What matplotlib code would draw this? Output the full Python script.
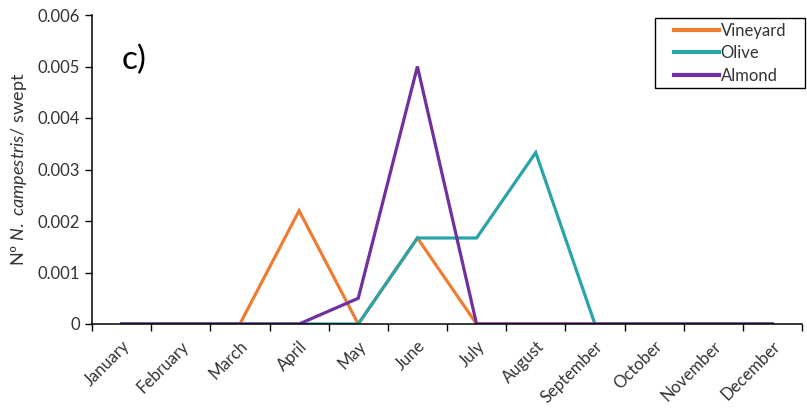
import matplotlib
matplotlib.use("Agg")
import matplotlib.pyplot as plt
from matplotlib.patches import Rectangle
from matplotlib.ticker import FixedLocator, FuncFormatter
import numpy as np

plt.rcParams['font.family'] = ['Lato', 'DejaVu Sans']
plt.rcParams['mathtext.fontset'] = 'custom'
plt.rcParams['mathtext.rm'] = 'Lato'
plt.rcParams['mathtext.it'] = 'Lato:italic'

months = ["January", "February", "March", "April", "May", "June", "July",
          "August", "September", "October", "November", "December"]
vineyard = [0, 0, 0, 0.0022, 0, 0.00167, 0, 0, 0, 0, 0, 0]
olive = [0, 0, 0, 0, 0, 0.00167, 0.00167, 0.00333, 0, 0, 0, 0]
almond = [0, 0, 0, 0, 0.0005, 0.005, 0, 0, 0, 0, 0, 0]

series = [("Vineyard", vineyard, "#ED7D31"),
          ("Olive", olive, "#2AA4A8"),
          ("Almond", almond, "#7030A0")]

text_color = '#333333'
W, H = 807, 412

fig = plt.figure(figsize=(W / 100, H / 100), dpi=100)
ax = fig.add_axes([92 / W, 88 / H, 710 / W, 309 / H])

x = np.arange(len(months))
for name, vals, color in series:
    ax.plot(x, vals, color=color, lw=2.3, label=name, solid_joinstyle='miter')

ax.set_xlim(-0.5, len(months) - 0.5)
ax.set_ylim(0, 0.006)
ax.set_yticks(np.arange(0, 0.0061, 0.001))
ax.yaxis.set_major_formatter(FuncFormatter(lambda v, p: "0" if v == 0 else f"{v:.3f}"))

ax.set_xticks(x)
ax.set_xticklabels(months, rotation=45, ha='right', rotation_mode='anchor')
ax.xaxis.set_minor_locator(FixedLocator(np.arange(-0.5, len(months), 1.0)))
ax.tick_params(axis='x', which='major', length=0, pad=10, labelsize=12, colors=text_color)
ax.tick_params(axis='x', which='minor', length=5, width=1, direction='out', color='black')
ax.tick_params(axis='y', length=5, width=1, direction='out', labelsize=12, labelcolor=text_color)

for s in ['top', 'right']:
    ax.spines[s].set_visible(False)
for s in ['left', 'bottom']:
    ax.spines[s].set_linewidth(1.1)

ax.set_ylabel(r"Nº $\it{N.\ campestris}$/ swept", fontsize=13, color=text_color, labelpad=6)

ax.text(0.042, 0.905, "c)", transform=ax.transAxes, fontsize=24, va='top', ha='left')

# Legend box with wide side margins, legend entries placed inside it
fig.add_artist(Rectangle((655 / W, 1 - 88 / H), 150 / W, 70 / H,
                         transform=fig.transFigure, fill=True, facecolor='white',
                         edgecolor='black', linewidth=1.0, zorder=5))
leg = fig.legend(*ax.get_legend_handles_labels(), loc='upper left',
                 bbox_to_anchor=(674 / W, 1 - 23 / H), frameon=False,
                 fontsize=12, handlelength=2.7, handletextpad=0.1,
                 borderpad=0, borderaxespad=0, labelspacing=0.38)
leg.set_zorder(6)
for line in leg.get_lines():
    line.set_linewidth(3)
for t in leg.get_texts():
    t.set_color(text_color)

fig.savefig("out.png", dpi=100)
